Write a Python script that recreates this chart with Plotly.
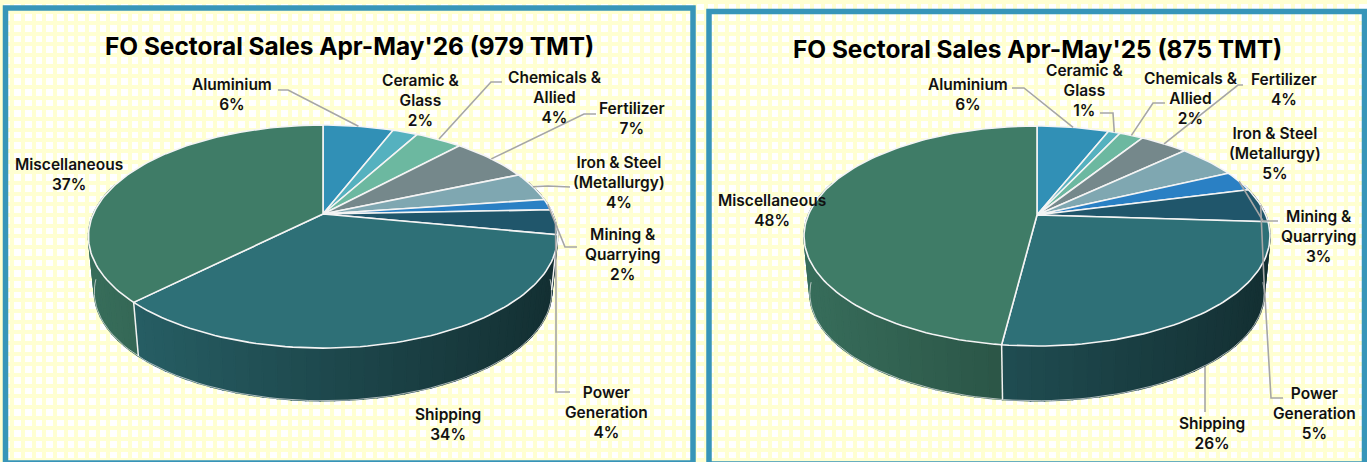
import math
import plotly.graph_objects as go

# ---- data ----
categories = ["Aluminium", "Ceramic &<br>Glass", "Chemicals &<br>Allied", "Fertilizer",
              "Iron & Steel<br>(Metallurgy)", "Mining &<br>Quarrying", "Power<br>Generation",
              "Shipping", "Miscellaneous"]
values_2026 = [5.9, 2.1, 3.9, 6.6, 4.2, 1.6, 3.6, 34.4, 37.4]
values_2025 = [6, 1, 2, 4, 5, 3, 5, 26, 48]
title_2026 = "FO Sectoral Sales Apr-May'26 (979 TMT)"
title_2025 = "FO Sectoral Sales Apr-May'25 (875 TMT)"
colors = ["#3190b6", "#55b1bf", "#6cb8a0", "#75888b", "#7fa7b1", "#2a80c4", "#20566b", "#2e7077", "#3f7c67"]

W, H = 1367, 462
FONT = "Inter"
LABEL_SIZE = 15.5
TITLE_SIZE = 24.4
TEXT = "#111111"
LEADER = "#a6a6a6"


def shade(hex_c, f):
    r, g, b = int(hex_c[1:3], 16), int(hex_c[3:5], 16), int(hex_c[5:7], 16)
    return f"rgb({r*f:.0f},{g*f:.0f},{b*f:.0f})"


class Pie3D:
    """Projective view of a tilted disc; angles clockwise from 12 o'clock."""
    def __init__(self, cx, cy, a, h, k, depth, f=0.975):
        self.cx, self.cy, self.a, self.h, self.k, self.depth, self.f = cx, cy, a, h, k, depth, f
        self.rx = a / math.sqrt(1 - k * k)

    def top(self, deg):
        t = math.radians(deg)
        u, v = math.sin(t), math.cos(t)
        s = 1 / (1 + self.k * v)
        return self.cx + self.a * u * s, self.cy - self.h * v * s

    def bottom(self, deg):
        x, y = self.top(deg)
        return self.cx + (x - self.cx) * self.f, self.cy + (y - self.cy) * self.f + self.depth


def frange(a, b, step):
    n = max(1, int(math.ceil((b - a) / step)))
    return [a + (b - a) * i / n for i in range(n + 1)]


def add_pie(fig, pie, values, behind_leaders, over_leaders):
    total = sum(values)
    edges = [0.0]
    for val in values:
        edges.append(edges[-1] + val / total * 360)

    for path in behind_leaders(pie, edges):
        fig.add_trace(go.Scatter(x=[p[0] for p in path], y=[p[1] for p in path], mode="lines",
                                 line=dict(color=LEADER, width=1.6), hoverinfo="skip"))

    # side wall strips
    for i, col in enumerate(colors):
        for a0, a1 in zip(frange(edges[i], edges[i + 1], 3)[:-1], frange(edges[i], edges[i + 1], 3)[1:]):
            mid = (a0 + a1) / 2
            if math.cos(math.radians(mid)) > 0.3:
                continue
            p0, p1, q1, q0 = pie.top(a0), pie.top(a1), pie.bottom(a1), pie.bottom(a0)
            xm = (p0[0] + p1[0]) / 2
            frac = (xm - (pie.cx - pie.rx)) / (2 * pie.rx)
            c = shade(col, 0.88 - 0.46 * frac)
            fig.add_trace(go.Scatter(x=[p0[0], p1[0], q1[0], q0[0], p0[0]],
                                     y=[p0[1], p1[1], q1[1], q0[1], p0[1]],
                                     mode="lines", fill="toself", fillcolor=c,
                                     line=dict(color=c, width=1.5), hoverinfo="skip"))
    # bottom rim
    rim = [pie.bottom(d) for d in frange(95, 265, 2)]
    fig.add_trace(go.Scatter(x=[p[0] for p in rim], y=[p[1] for p in rim], mode="lines",
                             line=dict(color="rgba(235,235,235,0.7)", width=1), hoverinfo="skip"))
    # white seams on the wall at front slice boundaries
    for e in edges[1:-1]:
        if 100 < e < 262:
            p, q = pie.top(e), pie.bottom(e)
            fig.add_trace(go.Scatter(x=[p[0], q[0]], y=[p[1], q[1]], mode="lines",
                                     line=dict(color="#f2f2f2", width=1.5), hoverinfo="skip"))
    # top face
    for i, col in enumerate(colors):
        arc = [pie.top(d) for d in frange(edges[i], edges[i + 1], 1.5)]
        xs = [pie.cx] + [p[0] for p in arc] + [pie.cx]
        ys = [pie.cy] + [p[1] for p in arc] + [pie.cy]
        fig.add_trace(go.Scatter(x=xs, y=ys, mode="lines", fill="toself", fillcolor=col,
                                 line=dict(color="#f4f4f4", width=1.6), hoverinfo="skip"))
    for path in over_leaders(pie, edges):
        fig.add_trace(go.Scatter(x=[p[0] for p in path], y=[p[1] for p in path], mode="lines",
                                 line=dict(color=LEADER, width=1.6), hoverinfo="skip"))


def mid(pie, edges, i):
    return pie.top((edges[i] + edges[i + 1]) / 2)


def over_2026(pie, e):
    return [
        [(278, 90), (288, 90), mid(pie, e, 0)],
        [(502, 82), (491, 82), (439, 139)],
        [(596, 114), (584, 114), mid(pie, e, 3)],
        [(570, 187), (548, 186), mid(pie, e, 4)],
        [(577, 247), (565, 247), mid(pie, e, 5)],
        [(570, 392), (556, 392), (556, 290), mid(pie, e, 6)],
    ]


def behind_2026(pie, e):
    return []


def over_2025(pie, e):
    return [
        [(1012, 88), (1024, 88), mid(pie, e, 0)],
        [(1100, 113), (1113, 113), mid(pie, e, 1)],
        [(1165, 103), (1153, 103), mid(pie, e, 2)],
        [(1243, 85), (1238, 85), mid(pie, e, 3)],
        [(1278, 221), (1263, 221), mid(pie, e, 5)],
        [(1283, 398), (1271, 398), (1264, 280), mid(pie, e, 6)],
    ]


def behind_2025(pie, e):
    return [[(1205, 412), (1205, 360), mid(pie, e, 7)]]


fig = go.Figure()
pie_left = Pie3D(323, 214, 229.7, 107, 0.202, 56)
pie_right = Pie3D(1037, 215, 228.7, 106, 0.191, 58)
add_pie(fig, pie_left, values_2026, behind_2026, over_2026)
add_pie(fig, pie_right, values_2025, behind_2025, over_2025)

label_pos_2026 = [(232, 94), (420, 100), (555, 97), (632, 118), (619, 182), (622, 254), (606, 412), (448, 424), (69, 174)]
label_pos_2025 = [(968, 94), (1084, 90), (1191, 98), (1284, 89), (1275, 153), (1318, 236), (1314, 413), (1212, 433), (772, 210)]

annotations = []
for vals, pos in ((values_2026, label_pos_2026), (values_2025, label_pos_2025)):
    for name, v, (x, y) in zip(categories, vals, pos):
        annotations.append(dict(x=x, y=y, xref="x", yref="y", showarrow=False, align="center",
                                xanchor="center", yanchor="middle",
                                text=f"{name}<br>{round(v)}%",
                                font=dict(family=FONT, size=LABEL_SIZE, color=TEXT, weight=600)))
for t, x, y in ((title_2026, 349, 46), (title_2025, 1037, 49)):
    annotations.append(dict(x=x, y=y, xref="x", yref="y", showarrow=False, xanchor="center", yanchor="middle",
                            text=t, font=dict(family=FONT, size=TITLE_SIZE, color="#000000", weight=700)))

FRAME = "#3795b9"
shapes = [
    dict(type="rect", xref="x", yref="y", x0=5.5, y0=8, x1=693, y1=463, line=dict(color=FRAME, width=5.5)),
    dict(type="rect", xref="x", yref="y", x0=709, y0=11.5, x1=1364.5, y1=464, line=dict(color=FRAME, width=5.5)),
]

axis = dict(showticklabels=False, ticks="", zeroline=False, showline=False, showgrid=True,
            gridcolor="#ffffd2", gridwidth=4, tick0=1.5, dtick=10.67, fixedrange=True)
fig.update_layout(
    width=W, height=H, autosize=False, margin=dict(l=0, r=0, t=0, b=0),
    paper_bgcolor="#ffffff", plot_bgcolor="#ffffff", showlegend=False,
    xaxis=dict(axis, range=[0, W]), yaxis=dict(axis, range=[H, 0]),
    annotations=annotations, shapes=shapes,
)
fig.write_html("out.html", config=dict(displayModeBar=False),
               post_script="document.body.style.margin='0';document.body.style.overflow='hidden';")
